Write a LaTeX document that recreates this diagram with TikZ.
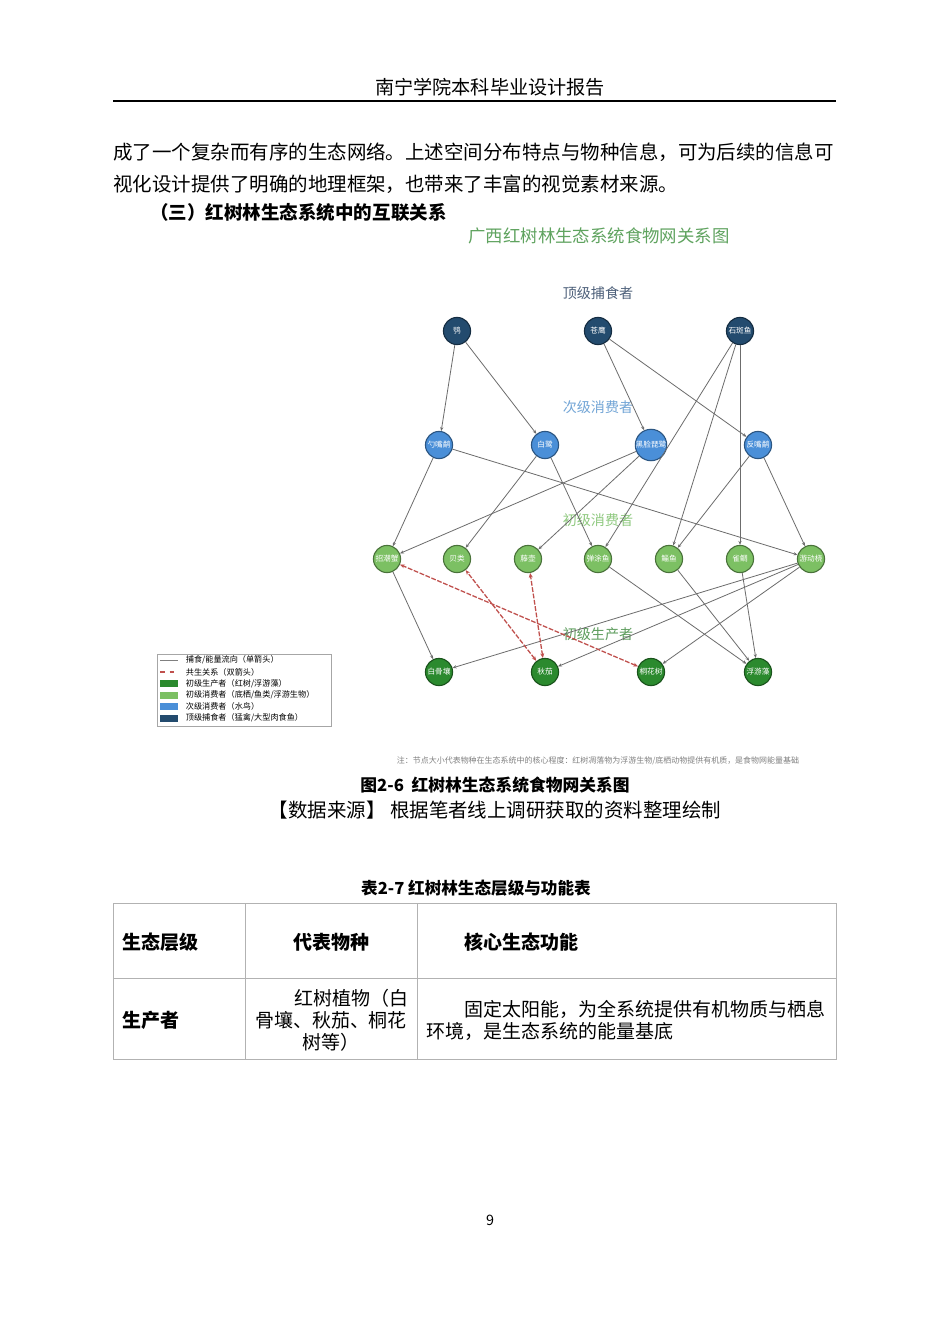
\documentclass[tikz,border=0pt]{standalone}
\usepackage{fontspec}
\setmainfont{Noto Sans CJK SC}
\usetikzlibrary{arrows.meta}
\definecolor{topc}{HTML}{234B6E}
\definecolor{midc}{HTML}{4A8FD8}
\definecolor{pric}{HTML}{7CC063}
\definecolor{proc}{HTML}{2B8A2E}
\definecolor{symc}{HTML}{C0504D}
\begin{document}
\begin{tikzpicture}[x=0.6265pt,y=-0.6265pt,
 sp/.style={circle,draw=#1!60!black,line width=0.7pt,minimum size=17pt,inner sep=0pt,text=white,font=\fontsize{4.8}{5}\selectfont,fill=#1},
 ed/.style={draw=gray!85!black,line width=0.5pt,-{Stealth[length=2.5pt,width=2pt]}},
 sym/.style={draw=symc,line width=0.8pt,dash pattern=on 3pt off 1pt,{Stealth[length=3pt,width=2.5pt]}-{Stealth[length=3pt,width=2.5pt]}},
 lay/.style={font=\fontsize{8.8}{10}\selectfont},
 body/.style={font=\fontsize{12.2}{14}\selectfont,inner sep=0pt}]
\useasboundingbox (0,0) rectangle (950,1344);
\fill[white] (0,0) rectangle (950,1344);
% header
\node[body,font=\fontsize{12}{14}\selectfont] (hdr) at (490,87) {南宁学院本科毕业设计报告};
\draw[line width=1.2pt] (113,101) -- (836,101);
\node[body,anchor=west] (p1) at (113,152) {成了一个复杂而有序的生态网络。上述空间分布特点与物种信息，可为后续的信息可};
\node[body,anchor=west] (p2) at (113,184) {视化设计提供了明确的地理框架，也带来了丰富的视觉素材来源。};
\node[body,anchor=west,font=\fontsize{11.6}{13}\selectfont\bfseries] (h3) at (150,212) {（三）红树林生态系统中的互联关系};
% chart
\node[font=\fontsize{10.9}{12}\selectfont] (title) at (599,236) {\color[HTML]{5FA35F}广西红树林生态系统食物网关系图};
\node[lay] (l1) at (598,293) {\color[HTML]{4D607A}顶级捕食者};
\node[lay] (l2) at (598,407) {\color[HTML]{72A5D6}次级消费者};
\node[lay] (l3) at (598,520) {\color[HTML]{8FC97F}初级消费者};
\node[lay] (l4) at (598,634) {\color[HTML]{5C9C5C}初级生产者};
% nodes
\node[sp=topc] (xiao) at (457,331) {鸮};
\node[sp=topc] (cangying) at (598,331) {苍鹰};
\node[sp=topc] (shiban) at (740,331) {石斑鱼};
\node[sp=midc] (shaozui) at (439,445) {勺嘴鹬};
\node[sp=midc] (bailu) at (545,445) {白鹭};
\node[sp=midc] (heilian) at (651,445) {黑脸琵鹭};
\node[sp=midc] (fanzui) at (758,445) {反嘴鹬};
\node[sp=pric] (zhaochao) at (387,559) {招潮蟹};
\node[sp=pric] (beilei) at (457,559) {贝类};
\node[sp=pric] (tenghu) at (528,559) {藤壶};
\node[sp=pric] (tantu) at (598,559) {弹涂鱼};
\node[sp=pric] (ziyu) at (669,559) {鲻鱼};
\node[sp=pric] (quediao) at (740,559) {雀鲷};
\node[sp=pric] (youdong) at (811,559) {游动桡};
\node[sp=proc] (baigu) at (439,672) {白骨壤};
\node[sp=proc] (qiuqie) at (545,672) {秋茄};
\node[sp=proc] (tonghua) at (651,672) {桐花树};
\node[sp=proc] (fuyou) at (758,672) {浮游藻};
% edges
\draw[ed] (xiao) -- (shaozui);
\draw[ed] (xiao) -- (bailu);
\draw[ed] (cangying) -- (heilian);
\draw[ed] (cangying) -- (fanzui);
\draw[ed] (shiban) -- (tantu);
\draw[ed] (shiban) -- (ziyu);
\draw[ed] (shiban) -- (quediao);
\draw[ed] (shaozui) -- (zhaochao);
\draw[ed] (shaozui) -- (youdong);
\draw[ed] (bailu) -- (beilei);
\draw[ed] (bailu) -- (tantu);
\draw[ed] (heilian) -- (zhaochao);
\draw[ed] (heilian) -- (tenghu);
\draw[ed] (fanzui) -- (ziyu);
\draw[ed] (fanzui) -- (youdong);
\draw[ed] (zhaochao) -- (baigu);
\draw[ed] (tantu) -- (fuyou);
\draw[ed] (ziyu) -- (fuyou);
\draw[ed] (quediao) -- (fuyou);
\draw[ed] (youdong) -- (baigu);
\draw[ed] (youdong) -- (qiuqie);
\draw[ed] (youdong) -- (tonghua);
\draw[sym] (qiuqie) -- (beilei);
\draw[sym] (qiuqie) -- (tenghu);
\draw[sym] (tonghua) -- (zhaochao);
% legend
\node[draw=gray!70,fill=white,line width=0.5pt,minimum width=109pt,minimum height=45pt] (leg) at (244,690) {};
\begin{scope}[font=\fontsize{5.1}{5.5}\selectfont]
\draw[gray,line width=0.6pt] (160,660) -- (178,660);
\node[anchor=west,inner sep=1pt] (g1) at (184,660) {捕食/能量流向（单箭头）};
\draw[symc,dashed,line width=0.7pt] (160,672) -- (178,672);
\node[anchor=west,inner sep=1pt] (g2) at (184,672) {共生关系（双箭头）};
\fill[proc] (160,680) rectangle (178,687);
\node[anchor=west,inner sep=1pt] (g3) at (184,683.5) {初级生产者（红树/浮游藻）};
\fill[pric] (160,691.5) rectangle (178,698.5);
\node[anchor=west,inner sep=1pt] (g4) at (184,695) {初级消费者（底栖/鱼类/浮游生物）};
\fill[midc] (160,703) rectangle (178,710);
\node[anchor=west,inner sep=1pt] (g5) at (184,706.5) {次级消费者（水鸟）};
\fill[topc] (160,714.5) rectangle (178,721.5);
\node[anchor=west,inner sep=1pt] (g6) at (184,718) {顶级捕食者（猛禽/大型肉食鱼）};
\end{scope}
\node[font=\fontsize{5}{5.5}\selectfont,text=gray] (note) at (598,761) {注：节点大小代表物种在生态系统中的核心程度：红树凋落物为浮游生物/底栖动物提供有机质，是食物网能量基础};
% captions
\node[font=\fontsize{10.5}{12}\selectfont\bfseries] (cap) at (495,785) {图2-6\ \ 红树林生态系统食物网关系图};
\node[font=\fontsize{12.2}{14}\selectfont] (src) at (495,810) {【数据来源】\ 根据笔者线上调研获取的资料整理绘制};
\node[font=\fontsize{10.4}{12}\selectfont\bfseries] (tt) at (476,888) {表2-7 红树林生态层级与功能表};
% table
\draw[gray!60,line width=0.5pt] (113,903) rectangle (836,1059);
\draw[gray!60,line width=0.5pt] (113,978) -- (836,978);
\draw[gray!60,line width=0.5pt] (245,903) -- (245,1059);
\draw[gray!60,line width=0.5pt] (417,903) -- (417,1059);
\begin{scope}[every node/.style={font=\fontsize{11.9}{13.8}\selectfont,inner sep=0pt}]
\node[anchor=west,font=\fontsize{11.9}{13}\selectfont\bfseries] (c1) at (122,942) {生态层级};
\node[font=\fontsize{11.9}{13}\selectfont\bfseries] (c2) at (331,942) {代表物种};
\node[anchor=west,font=\fontsize{11.9}{13}\selectfont\bfseries] (c3) at (464,942) {核心生态功能};
\node[anchor=west,font=\fontsize{11.9}{13}\selectfont\bfseries] (r1) at (122,1020) {生产者};
\node[align=center] (r2) at (331,1020) {\hspace*{2.2em}红树植物（白\\骨壤、秋茄、桐花\\树等）};
\node[anchor=west] (r3a) at (464,1009) {固定太阳能，为全系统提供有机物质与栖息};
\node[anchor=west] (r3b) at (426,1031) {环境，是生态系统的能量基底};
\end{scope}
\node[font=\fontsize{9}{10}\selectfont] (pg) at (490,1220) {9};
\end{tikzpicture}
\end{document}
